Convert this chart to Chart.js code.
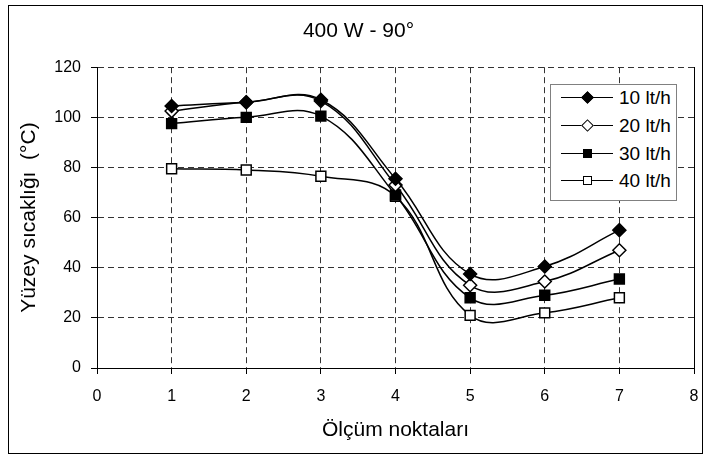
<!DOCTYPE html>
<html>
<head>
<meta charset="utf-8">
<script src="https://cdn.jsdelivr.net/npm/chart.js@4.4.1/dist/chart.umd.min.js"></script>
<style>
  html, body { margin: 0; padding: 0; background: #fff; }
  #wrap { position: relative; width: 704px; height: 455px; }
  #frame { position: absolute; left: 8px; top: 5px; width: 695px; height: 449px; box-sizing: border-box; border: 1px solid #000; pointer-events: none; }
  #legend { position: absolute; left: 550px; top: 84px; width: 127px; height: 117px; box-sizing: border-box; border: 1px solid #808080; background: #fff; font-family: "Liberation Sans", Arial, sans-serif; font-size: 19px; color: #000; }
  .row { position: absolute; left: 0; width: 125px; height: 0; }
  .sample { position: absolute; left: 10px; width: 52px; top: -1px; height: 0; border-top: 1.5px solid #000; }
  .mark { position: absolute; box-sizing: border-box; border: 1.5px solid #000; }
  .mark.diamond { width: 9px; height: 9px; left: 31.5px; top: -5px; transform: rotate(45deg); }
  .mark.square { width: 9px; height: 9px; left: 31.5px; top: -5px; }
  .label { position: absolute; left: 68px; top: -11px; line-height: 22px; white-space: nowrap; }
</style>
</head>
<body>
<div id="wrap">
  <canvas id="chart" width="704" height="455"></canvas>
  <div id="legend"></div>
  <div id="frame"></div>
</div>
<script>
// ölçüm noktaları
const points = [1, 2, 3, 4, 5, 6, 7];

// yüzey sıcaklığı (°C)
const flow10 = [104.5, 106, 107, 75.5, 37.5, 40.5, 55];
const flow20 = [102.5, 106, 106.5, 73, 33, 34.5, 47];
const flow30 = [97.5, 100, 100.5, 69, 28, 29, 35.5];
const flow40 = [79.5, 79, 76.5, 68.5, 21, 22, 28];

const seriesNames = ['10 lt/h', '20 lt/h', '30 lt/h', '40 lt/h'];
const xTicks = [0, 1, 2, 3, 4, 5, 6, 7, 8];
const yTicks = [0, 20, 40, 60, 80, 100, 120];

const series = [flow10, flow20, flow30, flow40];
const styles = [
  { point: 'rectRot', fill: '#000', r: 6.5 },
  { point: 'rectRot', fill: '#fff', r: 6.5 },
  { point: 'rect', fill: '#000', r: 7 },
  { point: 'rect', fill: '#fff', r: 7 }
];

Chart.defaults.font.family = '"Liberation Sans", Arial, sans-serif';
Chart.defaults.color = '#000';

const datasets = series.map((vals, i) => ({
  label: seriesNames[i],
  data: vals.map((v, j) => ({ x: points[j], y: v })),
  borderColor: '#000',
  borderWidth: 1.5,
  tension: 0.4,
  fill: false,
  pointStyle: styles[i].point,
  pointRadius: styles[i].r,
  pointBackgroundColor: styles[i].fill,
  pointBorderColor: '#000',
  pointBorderWidth: 1.5
}));

new Chart(document.getElementById('chart'), {
  type: 'line',
  data: { datasets },
  options: {
    responsive: false,
    animation: false,
    devicePixelRatio: 1,
    layout: { padding: { left: 13, top: 0, right: 0, bottom: 0 } },
    plugins: {
      legend: { display: false },
      tooltip: { enabled: false },
      title: {
        display: true,
        text: '400 W - 90°',
        font: { size: 21, weight: 'normal' },
        color: '#000',
        padding: { top: 19, bottom: 23 }
      }
    },
    scales: {
      x: {
        type: 'linear',
        min: 0,
        max: 8,
        afterBuildTicks: s => { s.ticks = xTicks.map(v => ({ value: v })); },
        // fixed box: no extra side padding from the end labels
        afterFit: s => { s.height = 87; s.paddingLeft = 0; s.paddingRight = 0; },
        ticks: { font: { size: 16 }, color: '#000', padding: 13 },
        grid: { color: '#333', tickColor: '#000', tickLength: 6 },
        border: { color: '#000', dash: [6, 4] },
        title: {
          display: true,
          text: 'Ölçüm noktaları',
          font: { size: 21 },
          color: '#000',
          padding: { top: 0, bottom: 12 }
        }
      },
      y: {
        min: 0,
        max: 120,
        afterBuildTicks: s => { s.ticks = yTicks.map(v => ({ value: v })); },
        afterFit: s => { s.width = 84; },
        ticks: { font: { size: 16 }, color: '#000', padding: 10 },
        grid: { color: '#333', tickColor: '#000', tickLength: 6 },
        border: { color: '#000', dash: [6, 4] },
        title: {
          display: true,
          text: 'Yüzey sıcaklığı  (°C)',
          font: { size: 21 },
          color: '#000',
          padding: { top: 4, bottom: 0 }
        }
      },
      y2: {
        position: 'right',
        min: 0,
        max: 120,
        afterFit: s => { s.width = 10; },
        ticks: { display: false },
        grid: { drawOnChartArea: false, drawTicks: false },
        border: { color: '#000' }
      }
    }
  }
});

// legend inside the plot, like the original
const legend = document.getElementById('legend');
const rowTops = [13, 41, 68.5, 96];
seriesNames.forEach((name, i) => {
  const row = document.createElement('div');
  row.className = 'row';
  row.style.top = rowTops[i] + 'px';
  const shape = styles[i].point === 'rectRot' ? 'diamond' : 'square';
  row.innerHTML = `<div class="sample"></div>
    <div class="mark ${shape}" style="background:${styles[i].fill}"></div>
    <div class="label">${name}</div>`;
  legend.appendChild(row);
});
</script>
</body>
</html>
